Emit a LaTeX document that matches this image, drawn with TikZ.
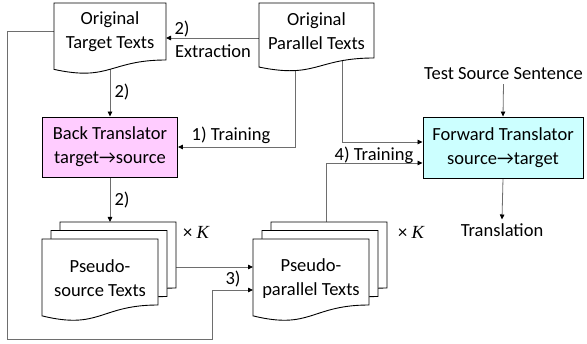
\documentclass[tikz,border=0pt]{standalone}
\usepackage{fontspec}
\setmainfont{Carlito}
\newfontfamily\kserif{Liberation Serif}
\usetikzlibrary{arrows.meta,calc}
\definecolor{pinkbox}{HTML}{FFCCFF}
\definecolor{cyanbox}{HTML}{CCFFFF}
\definecolor{conngray}{HTML}{6E6E6E}
\pgfdeclarelayer{bg}
\pgfsetlayers{bg,main}
\newcommand\docpage[5]{%
  \pgfmathsetmacro\dW{#4-#2}%
  \pgfmathsetmacro\dR{#5-#3}%
  \pgfmathsetmacro\dA{#5+0.1646*\dR}%
  \pgfmathsetmacro\dB{#5+0.381*\dR}%
  \pgfmathsetmacro\dM{(#2+#4)/2}%
  \filldraw[docline] (#2,#3) -- (#4,#3) -- (#4,#5) .. controls (\dM,#5) and (\dM,\dB) .. (#2,\dA) -- cycle;
  \node[pagebox, minimum width=\dW pt, minimum height=\dR pt, anchor=north west] (#1) at (#2,#3) {};
}
\tikzset{
  txt/.style={font=\fontsize{18.5}{24}\selectfont, align=center, inner sep=0pt},
  docline/.style={draw=black, fill=white, line width=0.9pt},
  pagebox/.style={inner sep=0pt, outer sep=0pt, draw=none},
  transbox/.style={draw=black, line width=0.9pt, inner sep=0pt, font=\fontsize{18.5}{24}\selectfont, align=center},
  conn/.style={draw=conngray, line width=0.8pt, -{Triangle[length=5pt,width=4.5pt,color=black]}},
}
\begin{document}
\begin{tikzpicture}[x=1pt,y=-1pt]
\useasboundingbox (0,0) rectangle (587,344);
% top documents
\docpage{tgt}{54}{3}{166}{60}
\docpage{par}{259}{3}{374}{58}
\node[txt] (tgtT) at (110,31.5) {Original\\Target Texts};
\node[txt] (parT) at (316.5,31.5) {Original\\Parallel Texts};
% translators
\node[transbox, fill=pinkbox, minimum width=135pt, minimum height=60pt] (back) at (110,147) {Back Translator\\target→source};
\node[transbox, fill=cyanbox, minimum width=160pt, minimum height=61pt] (fwd) at (503,147.5) {Forward Translator\\source→target};
\node[txt, outer sep=4pt] (test) at (503.5,74) {Test Source Sentence};
\node[txt, outer sep=4pt] (trans) at (502,230) {Translation};
% pseudo stacks
\docpage{psrc3}{60}{222}{176}{288}
\docpage{psrc2}{51}{230.5}{167}{296.5}
\docpage{psrc1}{42}{239}{158}{305}
\docpage{ppar3}{271}{222}{387}{288}
\docpage{ppar2}{262}{230.5}{378}{296.5}
\docpage{ppar1}{253}{239}{369}{305}
\node[txt] (psrcT) at (100,278.5) {Pseudo-\\source Texts};
\node[txt] (pparT) at (311,278.5) {Pseudo-\\parallel Texts};
\node[txt] (kA) at (196,232) {× {\kserif\itshape K}};
\node[txt] (kB) at (411,232) {× {\kserif\itshape K}};
% labels
\node[txt] (l2a) at (182,29) {2)};
\node[txt] (lext) at (213,51) {Extraction};
\node[txt] (l2b) at (122,92) {2)};
\node[txt] (l1) at (231,135) {1) Training};
\node[txt] (l2c) at (122,200) {2)};
\node[txt] (l3) at (233,279) {3)};
\node[txt] (l4) at (374,155) {4) Training};
\coordinate (loopA) at (7,339);
\coordinate (loopB) at (212,339);
\coordinate (srcout) at ($(psrc3.north east)+(0,45)$);
\begin{pgfonlayer}{bg}
\draw[conn] ($(par.north west)+(0,35)$) -- ($(tgt.north east)+(0,35)$);
\draw[conn] (tgt.south) -- (back.north);
\draw[conn] ($(par.south west)+(36,0)$) |- (back.east);
\draw[conn] ($(par.south west)+(83,0)$) |- ($(fwd.west)+(0,-5.5)$);
\draw[conn] (back.south) -- (back.south |- psrc3.north);
\draw[conn] (srcout) -- (srcout -| ppar1.west);
\draw[conn] (tgt.west) -| (loopA) -- (loopB) |- ($(ppar1.west)+(0,18)$);
\draw[conn] ($(ppar3.north west)+(55,0)$) |- ($(fwd.west)+(0,15.5)$);
\draw[conn] (test.south) -- (fwd.north);
\draw[conn] (fwd.south) -- (trans.north);
\end{pgfonlayer}
\end{tikzpicture}
\end{document}
